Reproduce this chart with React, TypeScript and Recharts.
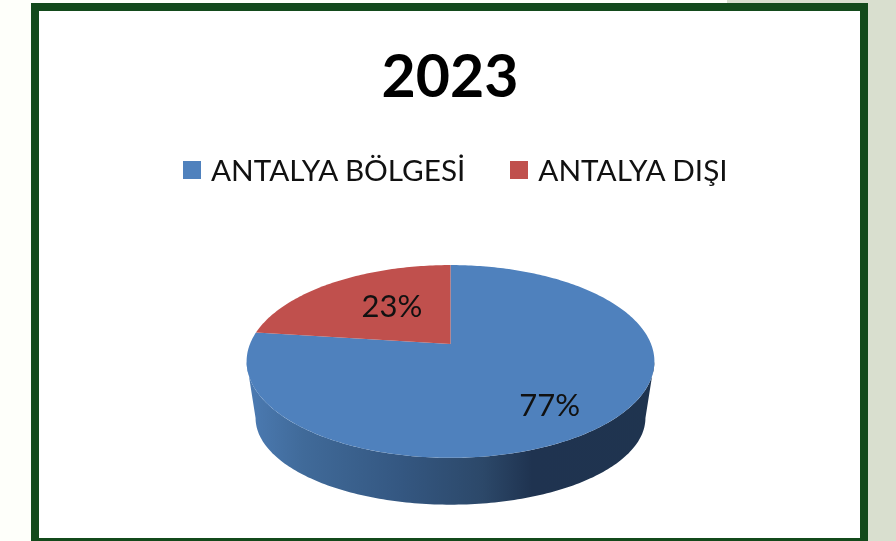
import React from "react";
import { PieChart, Pie, Legend } from "recharts";

const title = "2023";
const categories = ["ANTALYA BÖLGESİ", "ANTALYA DIŞI"];
const shares = [77, 23];
const colors = ["#4F81BD", "#C0504D"];
const tableData = categories.map((name, i) => ({ name, value: shares[i], fill: colors[i] }));

const FONT = "Lato, Carlito, sans-serif";
const W = 896;
const H = 541;

// perspective view of the pie's unit circle
const PERSP = 0.181;
const X_K = 0.983;
const Y_K = 0.457;
const SIL_A = 100.4;
const SIL_B = 259.6;
const rad = (d: number) => (d * Math.PI) / 180;

function project(cx: number, cy: number, r: number, theta: number, f = 1) {
  const u = f * Math.sin(rad(theta));
  const v = f * Math.cos(rad(theta));
  const den = 1 + PERSP * v;
  return { x: cx + (r * X_K * u) / den, y: cy - (r * Y_K * v) / den };
}

function lowerRim(p: { x: number; y: number }, cx: number, cy: number) {
  return { x: cx + (p.x - cx) * 0.956, y: cy + 74 + (p.y - cy - 17.5) * 0.9 };
}

function arcPoints(cx: number, cy: number, r: number, a: number, b: number) {
  const n = Math.max(2, Math.ceil(Math.abs(b - a)));
  const pts = [];
  for (let i = 0; i <= n; i++) pts.push(project(cx, cy, r, a + ((b - a) * i) / n));
  return pts;
}

const toD = (pts: { x: number; y: number }[]) =>
  pts.map((p, i) => `${i ? "L" : "M"}${p.x.toFixed(2)} ${p.y.toFixed(2)}`).join(" ") + " Z";

function Slice(props: any) {
  const { cx, cy, outerRadius, startAngle, endAngle, fill } = props;
  const a = 90 - startAngle;
  const b = 90 - endAngle;
  const top = [{ x: cx, y: cy }, ...arcPoints(cx, cy, outerRadius, a, b)];
  const wa = Math.max(a, SIL_A);
  const wb = Math.min(b, SIL_B);
  const id = `wall-${Math.round(a)}`;
  let wall = null;
  if (wb > wa) {
    const upper = arcPoints(cx, cy, outerRadius, wa, wb);
    const lower = upper.map((p) => lowerRim(p, cx, cy)).reverse();
    wall = (
      <>
        <defs>
          <linearGradient id={id} gradientUnits="userSpaceOnUse" x1={cx - outerRadius} x2={cx + outerRadius} y1={0} y2={0}>
            <stop offset="0" stopColor="#4C7BB3" />
            <stop offset="0.14" stopColor="#406A99" />
            <stop offset="0.38" stopColor="#345781" />
            <stop offset="0.58" stopColor="#2C4869" />
            <stop offset="0.7" stopColor="#1F3350" />
            <stop offset="1" stopColor="#1F344F" />
          </linearGradient>
        </defs>
        <path d={toD([...upper, ...lower])} fill={`url(#${id})`} />
      </>
    );
  }
  return (
    <g>
      {wall}
      <path d={toD(top)} fill={fill} />
    </g>
  );
}

const labelDepth = [0.78, 0.586];

function SliceLabel(props: any) {
  const { cx, cy, outerRadius, midAngle, index, value } = props;
  const p = project(cx, cy, outerRadius, 90 - midAngle, labelDepth[index]);
  return (
    <text
      x={cx + (p.x - cx) * 0.84 + 2}
      y={p.y - 1}
      textAnchor="middle"
      dominantBaseline="central"
      fontFamily={FONT}
      fontSize={31}
      fill="#111"
    >
      {value}%
    </text>
  );
}

function LegendRow({ payload }: any) {
  return (
    <div style={{ display: "flex", alignItems: "center", height: 34, lineHeight: "34px", fontFamily: FONT, fontSize: 29.7, color: "#111", whiteSpace: "nowrap" }}>
      {(payload || []).map((item: any, i: number) => (
        <div key={item.value} style={{ display: "flex", alignItems: "center", marginRight: i === 0 ? 45 : 0 }}>
          <span style={{ width: 18, height: 18, background: item.color, marginRight: 10, display: "inline-block" }} />
          <span>{item.value}</span>
        </div>
      ))}
    </div>
  );
}

export default function App() {
  return (
    <div style={{ position: "absolute", left: 0, top: 0, width: W, height: H, overflow: "hidden", background: "#FEFFFA" }}>
      <div style={{ position: "absolute", left: 727, top: 0, width: 169, height: H, background: "#D9DFCF" }} />
      <div
        style={{
          position: "absolute",
          left: 31,
          top: 3,
          width: 821,
          height: 527,
          border: "8px solid #134A1B",
          borderBottomWidth: 3,
          background: "#fff",
        }}
      />
      <div
        style={{
          position: "absolute",
          left: 0,
          top: 42,
          width: 900,
          textAlign: "center",
          fontFamily: FONT,
          fontWeight: 700,
          fontSize: 59,
          lineHeight: "66px",
          color: "#000",
          filter: "blur(0.4px)",
        }}
      >
        {title}
      </div>
      <div style={{ position: "absolute", left: 0, top: 0, filter: "blur(0.4px)" }}>
        <PieChart width={W} height={H} margin={{ top: 0, right: 0, bottom: 0, left: 0 }}>
          <Legend
            content={<LegendRow />}
            layout="horizontal"
            verticalAlign="top"
            align="left"
            wrapperStyle={{ position: "absolute", left: 183, top: 153, width: 600 }}
          />
          <Pie
            data={tableData}
            dataKey="value"
            nameKey="name"
            cx={450.5}
            cy={310}
            outerRadius={204}
            startAngle={90}
            endAngle={-270}
            stroke="none"
            isAnimationActive={false}
            shape={Slice}
            label={SliceLabel}
            labelLine={false}
          />
        </PieChart>
      </div>
    </div>
  );
}
